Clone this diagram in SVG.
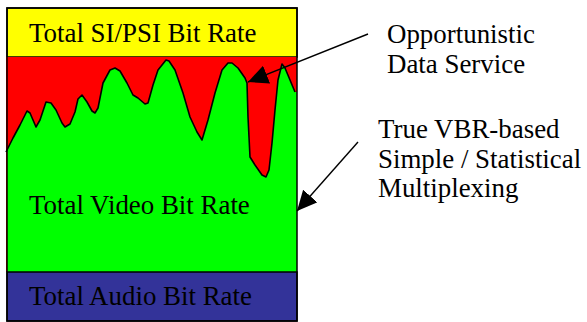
<svg xmlns="http://www.w3.org/2000/svg" width="587" height="322" viewBox="0 0 587 322">
  <style>
    .lbl { font-family: "Liberation Serif", "Times New Roman", serif; font-size: 26.9px; fill: #000; }
    .band { stroke: #000; stroke-width: 1.5; }
    .edge { fill: none; stroke: #000; stroke-width: 1.4; }
  </style>
  <defs>
    <marker id="head" viewBox="0 0 20 19" refX="20" refY="9.5" markerWidth="20" markerHeight="19" markerUnits="userSpaceOnUse" orient="auto">
      <path d="M0,0 L20,9.5 L0,19 z" fill="#000"/>
    </marker>
  </defs>
  <rect width="587" height="322" fill="#fff"/>

  <!-- stacked bit-rate bands -->
  <g id="si-psi">
    <rect class="band" x="7" y="8" width="290" height="49" fill="#ffff00"/>
    <text class="lbl" x="29" y="42">Total SI/PSI Bit Rate</text>
  </g>
  <g id="data-service">
    <rect x="6" y="57" width="291" height="215" fill="#ff0000"/>
  </g>
  <g id="video">
    <polygon fill="#00ff00" points="7,150 13,138 20,125 27,111 30,113 36,127 40,120 46,102 51,103 56,110 62,123 65,127 70,124 75,112 78,99 82,95 87,102 92,111 95,113 98,108 100,98 103,83 110,70 115,68 120,71 127,83 133,95 138,98 145,104 148,103 153,85 158,70 166,60 169,61 175,70 183,93 190,117 197,132 202,140 208,120 215,93 222,70 228,63 232,63 238,68 245,78 247,83 248,117 250,157 255,165 262,175 266,177 269,170 272,143 275,110 278,80 282,64 285,68 290,80 295,92 297,92 297,272 7,272"/>
    <polyline fill="none" stroke="#000" stroke-width="1.6" stroke-linejoin="round" points="6,152 13,138 20,125 27,111 30,113 36,127 40,120 46,102 51,103 56,110 62,123 65,127 70,124 75,112 78,99 82,95 87,102 92,111 95,113 98,108 100,98 103,83 110,70 115,68 120,71 127,83 133,95 138,98 145,104 148,103 153,85 158,70 166,60 169,61 175,70 183,93 190,117 197,132 202,140 208,120 215,93 222,70 228,63 232,63 238,68 245,78 247,83 248,117 250,157 255,165 262,175 266,177 269,170 272,143 275,110 278,80 282,64 285,68 290,80 295,92"/>
    <text class="lbl" x="29" y="214">Total Video Bit Rate</text>
  </g>
  <g id="audio">
    <rect class="band" x="7" y="272" width="290" height="49" fill="#333399"/>
    <text class="lbl" x="29" y="305">Total Audio Bit Rate</text>
  </g>
  <!-- outer frame -->
  <rect x="7" y="8" width="290" height="313" fill="none" stroke="#000" stroke-width="1.5"/>

  <!-- callout labels -->
  <g id="opportunistic">
    <text class="lbl" x="387" y="43">Opportunistic</text>
    <text class="lbl" x="387" y="73">Data Service</text>
  </g>
  <g id="vbr">
    <text class="lbl" x="378" y="138">True VBR-based</text>
    <text class="lbl" x="378" y="168">Simple / Statistical</text>
    <text class="lbl" x="378" y="197">Multiplexing</text>
  </g>

  <g id="connectors">
    <line class="edge" x1="368" y1="34" x2="248" y2="82" marker-end="url(#head)"/>
    <line class="edge" x1="358" y1="142" x2="297" y2="211" marker-end="url(#head)"/>
  </g>
</svg>
